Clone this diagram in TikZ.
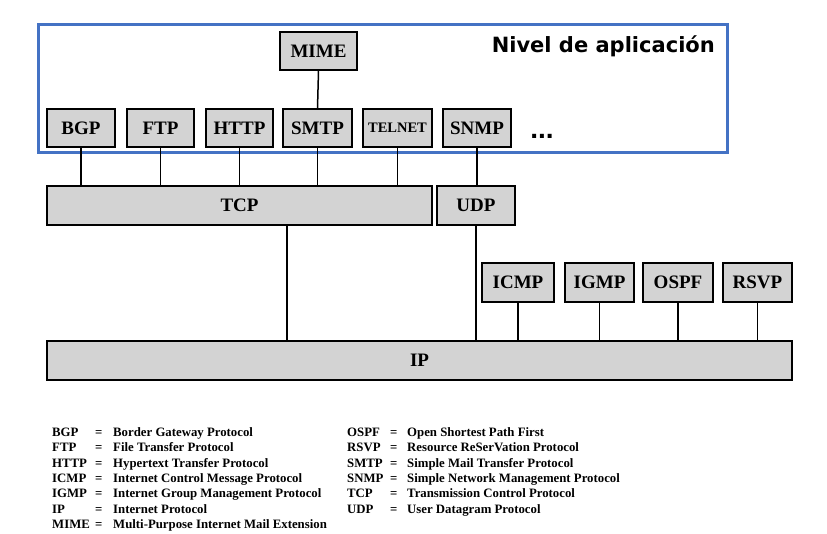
\documentclass[tikz,border=0pt]{standalone}
\usepackage{fontspec}
\setmainfont{Liberation Serif}
\newfontfamily\labfont{DejaVu Sans}
\newfontfamily\dotfont{Liberation Sans}
\definecolor{boxgray}{RGB}{211,211,211}
\definecolor{appblue}{RGB}{68,114,196}
\begin{document}
\begin{tikzpicture}[x=1pt,y=-1pt,
  proto/.style={draw=black, fill=boxgray, line width=1.5pt, minimum height=38pt, inner sep=0pt, font=\fontsize{19}{22}\selectfont\bfseries},
  conn/.style={line width=1.5pt},
  legab/.style={anchor=base west, inner sep=0pt, font=\fontsize{12.8}{14}\selectfont\bfseries},
  appframe/.style={draw=appblue, line width=3pt, inner sep=0pt}]
\useasboundingbox (0,0) rectangle (827,534);
% application level frame
\node[appframe, minimum width=689pt, minimum height=128pt] (app) at (382.5,89) {};
\node[anchor=north east, inner sep=0pt, font=\labfont\fontsize{21}{24}\selectfont\bfseries] (applbl) at (715,36) {Nivel de aplicación};
% application protocols
\node[proto, minimum width=77pt] (mime) at (318.5,51) {MIME};
\node[proto, minimum width=68pt] (bgp) at (81,128) {BGP};
\node[proto, minimum width=67pt] (ftp) at (160.5,128) {FTP};
\node[proto, minimum width=67pt] (http) at (239.5,128) {HTTP};
\node[proto, minimum width=69pt] (smtp) at (317.5,128) {SMTP};
\node[proto, minimum width=69pt, font=\fontsize{14.5}{17}\selectfont\bfseries] (telnet) at (397.5,128) {TELNET};
\node[proto, minimum width=68pt] (snmp) at (477,128) {SNMP};
\node[anchor=base, inner sep=0pt, font=\dotfont\fontsize{28}{30}\selectfont\bfseries] (dots) at (542,139) {...};
% transport
\node[proto, minimum width=385pt, minimum height=39pt] (tcp) at (239.5,205.5) {TCP};
\node[proto, minimum width=78pt, minimum height=39pt] (udp) at (476,205.5) {UDP};
% IP helpers
\node[proto, minimum width=72pt, minimum height=39pt] (icmp) at (518,282.5) {ICMP};
\node[proto, minimum width=69pt, minimum height=39pt] (igmp) at (599.5,282.5) {IGMP};
\node[proto, minimum width=70pt, minimum height=39pt] (ospf) at (678,282.5) {OSPF};
\node[proto, minimum width=69pt, minimum height=39pt] (rsvp) at (757.5,282.5) {RSVP};
\node[proto, minimum width=745pt, minimum height=39pt] (ip) at (419.5,360.5) {IP};
% connectors
\draw[conn] (mime.south) -- (smtp.north);
\foreach \n in {bgp,ftp,http,smtp,telnet}{
  \draw[conn] (\n.south) -- (\n.south |- tcp.north);
}
\draw[conn] (snmp.south) -- (snmp.south |- udp.north);
\coordinate (tcpout) at ([xshift=47.5pt]tcp.south);
\draw[conn] (tcpout) -- (tcpout |- ip.north);
\draw[conn] (udp.south) -- (udp.south |- ip.north);
\foreach \n in {icmp,igmp,ospf,rsvp}{
  \draw[conn] (\n.south) -- (\n.south |- ip.north);
}
% legend
\foreach \ab/\df [count=\i] in {BGP/Border Gateway Protocol, FTP/File Transfer Protocol, HTTP/Hypertext Transfer Protocol, ICMP/Internet Control Message Protocol, IGMP/Internet Group Management Protocol, IP/Internet Protocol, MIME/Multi-Purpose Internet Mail Extension}{
  \node[legab] (la\i) at (52,{436.5+15.3*(\i-1)}) {\ab};
  \node[legab] (le\i) at (95,{436.5+15.3*(\i-1)}) {=};
  \node[legab] (ld\i) at (113,{436.5+15.3*(\i-1)}) {\df};
}
\foreach \ab/\df [count=\i] in {OSPF/Open Shortest Path First, RSVP/Resource ReSerVation Protocol, SMTP/Simple Mail Transfer Protocol, SNMP/Simple Network Management Protocol, TCP/Transmission Control Protocol, UDP/User Datagram Protocol}{
  \node[legab] (ra\i) at (347,{436.5+15.3*(\i-1)}) {\ab};
  \node[legab] (re\i) at (390,{436.5+15.3*(\i-1)}) {=};
  \node[legab] (rd\i) at (407,{436.5+15.3*(\i-1)}) {\df};
}
\end{tikzpicture}
\end{document}
